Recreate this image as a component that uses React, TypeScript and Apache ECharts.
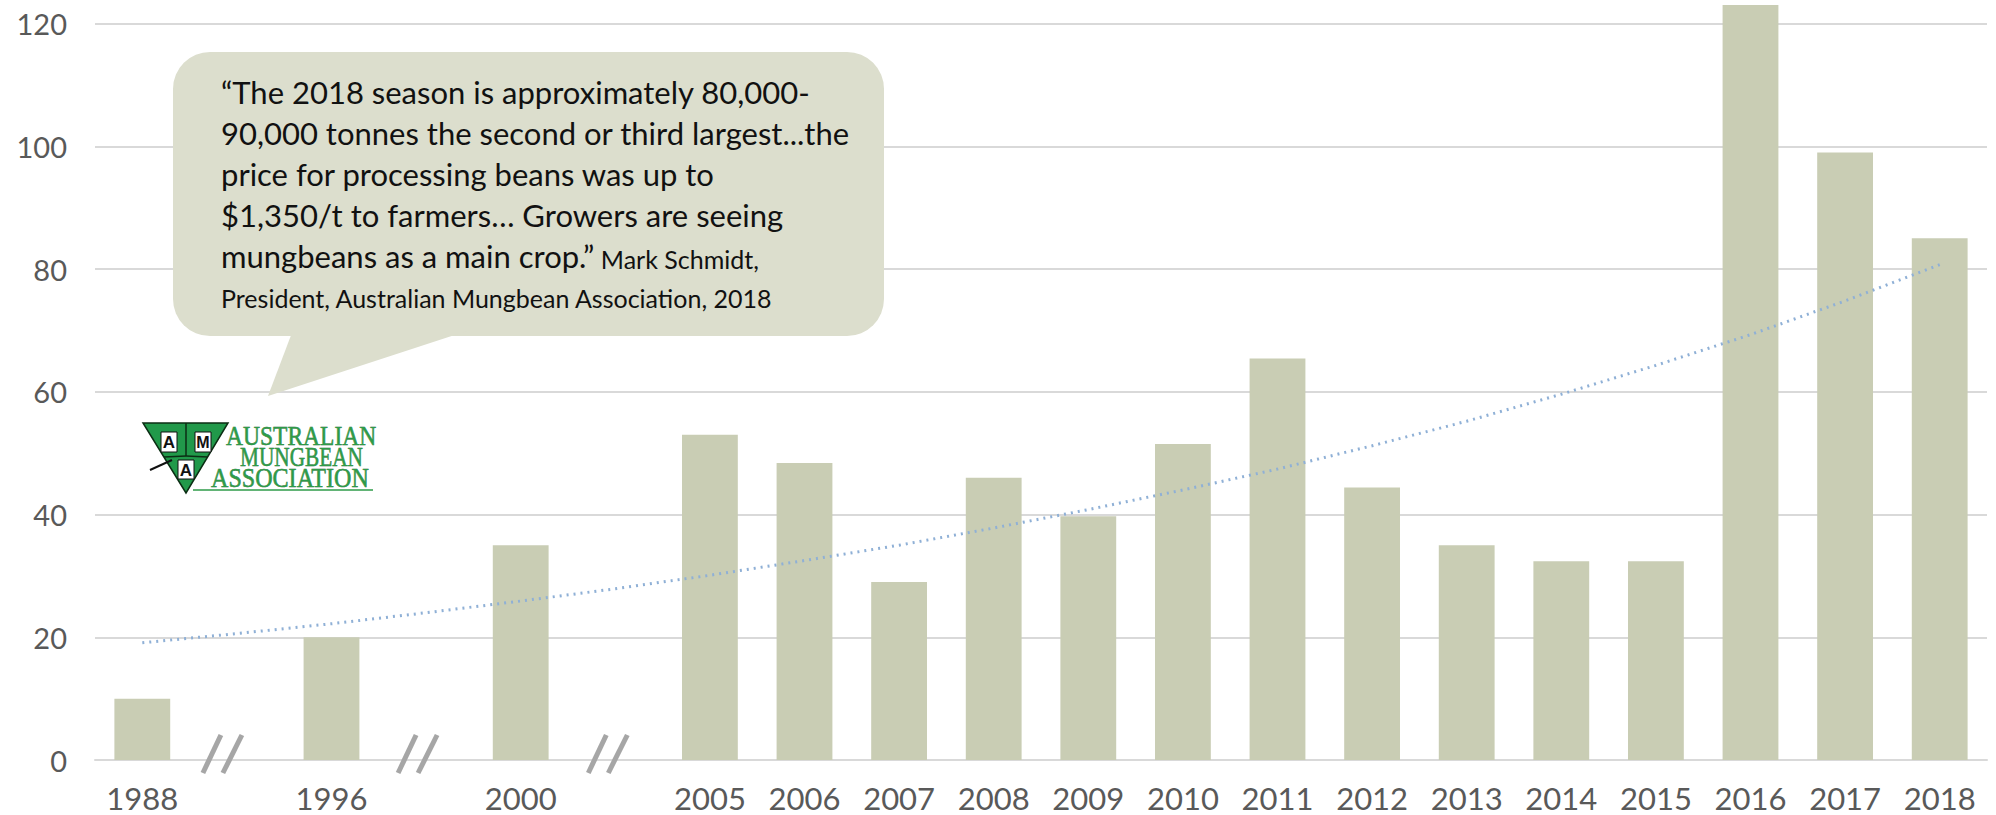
import React, { useEffect, useRef } from "react";
import * as echarts from "echarts";

const categories = ["1988", "gap1", "1996", "gap2", "2000", "gap3", "2005", "2006", "2007", "2008", "2009", "2010", "2011", "2012", "2013", "2014", "2015", "2016", "2017", "2018"];
const production = [10, null, 20, null, 35, null, 53, 48.4, 29, 46, 39.7, 51.5, 65.4, 44.4, 35, 32.4, 32.4, 123, 99, 85];
const trend = [19.1, 20.6, 22.2, 24.0, 25.9, 27.9, 30.1, 32.5, 35.0, 37.8, 40.8, 44.0, 47.4, 51.2, 55.2, 59.6, 64.3, 69.3, 74.8, 80.7];
const breakSlots = [1, 3, 5];
const yMin = 0;
const yMax = 120;
const yInterval = 20;

const quoteLines = [
  "“The 2018 season is approximately 80,000-",
  "90,000 tonnes the second or third largest...the",
  "price for processing beans was up to",
  "$1,350/t to farmers… Growers are seeing",
];
const quoteLast = "mungbeans as a main crop.”";
const attribution1 = " Mark Schmidt,";
const attribution2 = "President, Australian Mungbean Association, 2018";
const logoLines = ["AUSTRALIAN", "MUNGBEAN", "ASSOCIATION"];

const FONT = "Lato, 'Open Sans', sans-serif";
const breakShift: Record<number, number> = { 1: -15, 3: -9, 5: -8 };

export default function App() {
  const ref = useRef<HTMLDivElement>(null);
  useEffect(() => {
    if (!ref.current) return;
    const chart = echarts.init(ref.current, null, { renderer: "svg" });
    const bubbleFill = "#DCDECD";
    const green = "#2E9B48";
    const option: any = {
      animation: false,
      backgroundColor: "#ffffff",
      grid: { left: 95, right: 9, top: 23.5, bottom: 55, containLabel: false },
      xAxis: {
        type: "category",
        data: categories,
        axisLine: { show: true, lineStyle: { color: "#D9D9D9", width: 2 } },
        axisTick: { show: false },
        axisLabel: {
          interval: 0,
          margin: 22,
          fontSize: 31,
          fontFamily: FONT,
          color: "#595959",
          formatter: (v: string) => (v.startsWith("gap") ? "" : v),
        },
      },
      yAxis: {
        type: "value",
        min: yMin,
        max: yMax,
        interval: yInterval,
        axisLine: { show: false },
        axisTick: { show: false },
        axisLabel: { margin: 28, fontSize: 29, fontFamily: FONT, color: "#595959" },
        splitLine: { lineStyle: { color: "#D9D9D9", width: 2 } },
      },
      series: [
        {
          type: "bar",
          data: production,
          barWidth: "59%",
          clip: false,
          itemStyle: { color: "#C9CDB4" },
          z: 2,
        },
        {
          type: "line",
          data: trend,
          symbol: "none",
          smooth: false,
          lineStyle: { color: "#8FB0D6", width: 3, type: [2, 5] },
          z: 3,
        },
        {
          type: "custom",
          data: breakSlots.map((s) => [s, 0]),
          encode: { x: 0, y: 1 },
          clip: false,
          z: 4,
          renderItem: (params: any, api: any) => {
            const slot = api.value(0);
            const p = api.coord([slot, api.value(1)]);
            const cx = p[0] + (breakShift[slot] ?? -10);
            const y0 = p[1];
            const st = { stroke: "#A6A6A6", lineWidth: 5 };
            return {
              type: "group",
              children: [
                { type: "line", shape: { x1: cx - 1, y1: y0 - 25, x2: cx - 19, y2: y0 + 13 }, style: st },
                { type: "line", shape: { x1: cx + 20, y1: y0 - 25, x2: cx + 1, y2: y0 + 13 }, style: st },
              ],
            };
          },
        },
      ],
      graphic: [
        {
          type: "rect",
          shape: { x: 173, y: 52, width: 711, height: 284, r: 37 },
          style: { fill: bubbleFill },
          z: 10,
        },
        {
          type: "polygon",
          shape: { points: [[293, 330], [470, 330], [268, 396]] },
          style: { fill: bubbleFill },
          z: 10,
        },
        ...quoteLines.map((t, i) => ({
          type: "text",
          x: 221,
          y: 92 + i * 41,
          z: 11,
          style: { text: t, fontSize: 31, fontFamily: FONT, fill: "#111111", verticalAlign: "middle", align: "left" },
        })),
        {
          type: "text",
          x: 221,
          y: 256,
          z: 11,
          style: {
            text: "{a|" + quoteLast + "}{b|" + attribution1 + "}",
            fontFamily: FONT,
            fill: "#111111",
            verticalAlign: "middle",
            align: "left",
            rich: {
              a: { fontSize: 31, fontFamily: FONT, fill: "#111111", verticalAlign: "bottom" },
              b: { fontSize: 25, fontFamily: FONT, fill: "#111111", verticalAlign: "bottom" },
            },
          },
        },
        {
          type: "text",
          x: 221,
          y: 298,
          z: 11,
          style: { text: attribution2, fontSize: 25, fontFamily: FONT, fill: "#111111", verticalAlign: "middle", align: "left" },
        },
        {
          type: "group",
          z: 12,
          children: [
            {
              type: "polygon",
              shape: { points: [[143, 423], [228, 423], [186, 493]] },
              style: { fill: "#21994A", stroke: "#0B2E14", lineWidth: 1.5 },
            },
            { type: "line", shape: { x1: 186, y1: 423, x2: 186, y2: 456 }, style: { stroke: "#0B2E14", lineWidth: 1.5 } },
            { type: "line", shape: { x1: 186, y1: 456, x2: 164, y2: 457 }, style: { stroke: "#0B2E14", lineWidth: 1.5 } },
            { type: "line", shape: { x1: 186, y1: 456, x2: 208, y2: 457 }, style: { stroke: "#0B2E14", lineWidth: 1.5 } },
            { type: "line", shape: { x1: 150, y1: 470, x2: 172, y2: 460 }, style: { stroke: "#111111", lineWidth: 2 } },
            { type: "rect", shape: { x: 161, y: 432, width: 16, height: 20 }, style: { fill: "#ffffff", stroke: "#111111", lineWidth: 1 } },
            { type: "rect", shape: { x: 195, y: 432, width: 16, height: 20 }, style: { fill: "#ffffff", stroke: "#111111", lineWidth: 1 } },
            { type: "rect", shape: { x: 178, y: 460, width: 16, height: 19 }, style: { fill: "#ffffff", stroke: "#111111", lineWidth: 1 } },
            { type: "text", x: 169, y: 442.5, style: { text: "A", fontSize: 17, fontWeight: "bold", fontFamily: "'Liberation Sans', sans-serif", fill: "#111111", align: "center", verticalAlign: "middle" } },
            { type: "text", x: 203, y: 442.5, style: { text: "M", fontSize: 16, fontWeight: "bold", fontFamily: "'Liberation Sans', sans-serif", fill: "#111111", align: "center", verticalAlign: "middle" } },
            { type: "text", x: 186, y: 470, style: { text: "A", fontSize: 17, fontWeight: "bold", fontFamily: "'Liberation Sans', sans-serif", fill: "#111111", align: "center", verticalAlign: "middle" } },
            { type: "text", x: 226, y: 435.5, scaleX: 0.84, style: { text: logoLines[0], fontSize: 28, fontFamily: "'Liberation Serif', serif", fill: green, stroke: "#17602A", lineWidth: 0.5, align: "left", verticalAlign: "middle" } },
            { type: "text", x: 240, y: 456.5, scaleX: 0.76, style: { text: logoLines[1], fontSize: 28, fontFamily: "'Liberation Serif', serif", fill: green, stroke: "#17602A", lineWidth: 0.5, align: "left", verticalAlign: "middle" } },
            { type: "text", x: 211, y: 478, scaleX: 0.86, style: { text: logoLines[2], fontSize: 28, fontFamily: "'Liberation Serif', serif", fill: green, stroke: "#17602A", lineWidth: 0.5, align: "left", verticalAlign: "middle" } },
            { type: "line", shape: { x1: 193, y1: 490, x2: 373, y2: 490 }, style: { stroke: green, lineWidth: 1.5 } },
          ],
        },
      ],
    };
    chart.setOption(option);
    return () => chart.dispose();
  }, []);
  return <div ref={ref} style={{ position: "absolute", left: 0, top: 0, width: 1996, height: 815 }} />;
}
